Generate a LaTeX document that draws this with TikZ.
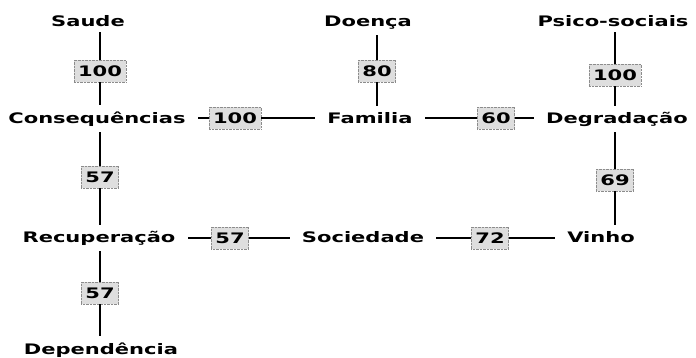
\documentclass[tikz,border=0pt]{standalone}
\usepackage{fontspec}
\setmainfont{DejaVu Sans}[FakeStretch=1.45]
\usepackage{tikz}
\newcommand{\wordfont}{\fontsize{14.5}{16}\selectfont\bfseries}
\tikzset{
	word/.style={font=\wordfont, anchor=base, inner xsep=12pt, inner ysep=6pt},
	val/.style={font=\wordfont, fill=black!13, draw=black!45, densely dotted, inner xsep=4pt, inner ysep=5.5pt},
	link/.style={line width=1.8pt}
}

\begin{document}
\begin{tikzpicture}[x=1pt,y=-1pt]
			%%%%% START %%%%%
			\useasboundingbox (0,0) rectangle (696,357);
			
			\node[word] (saude) at (88, 26) {Saude};
			\node[word] (doenca) at (368, 26) {Doença};
			\node[word] (psico) at (613, 26) {Psico-sociais};
			
			\node[word] (conseq) at (97, 123) {Consequências};
			\node[word] (familia) at (370, 123) {Familia};
			\node[word] (degrad) at (617, 123) {Degradação};
			
			\node[word] (recup) at (99, 242) {Recuperação};
			\node[word] (socied) at (363, 242) {Sociedade};
			\node[word] (vinho) at (601, 242) {Vinho};
			
			\node[word] (depend) at (101, 354) {Dependência};
			
			\node[val] (v1) at (100, 71) {100};
			\node[val] (v2) at (377, 71) {80};
			\node[val] (v3) at (615, 75) {100};
			\node[val] (h1) at (235, 118) {100};
			\node[val] (h2) at (496, 118) {60};
			\node[val] (v4) at (100, 177) {57};
			\node[val] (v5) at (615, 180) {69};
			\node[val] (h3) at (230, 238) {57};
			\node[val] (h4) at (490, 238) {72};
			\node[val] (v6) at (100, 293) {57};
			
			\draw[link] (v1) -- (v1 |- saude.south);
			\draw[link] (v1) -- (v1 |- conseq.north);
			\draw[link] (v2) -- (v2 |- doenca.south);
			\draw[link] (v2) -- (v2 |- familia.north);
			\draw[link] (v3) -- (v3 |- psico.south);
			\draw[link] (v3) -- (v3 |- degrad.north);
			
			\draw[link] (h1) -- (h1 -| conseq.east);
			\draw[link] (h1) -- (h1 -| familia.west);
			\draw[link] (h2) -- (h2 -| familia.east);
			\draw[link] (h2) -- (h2 -| degrad.west);
			
			\draw[link] (v4) -- (v4 |- conseq.south);
			\draw[link] (v4) -- (v4 |- recup.north);
			\draw[link] (v5) -- (v5 |- degrad.south);
			\draw[link] (v5) -- (v5 |- vinho.north);
			
			\draw[link] (h3) -- (h3 -| recup.east);
			\draw[link] (h3) -- (h3 -| socied.west);
			\draw[link] (h4) -- (h4 -| socied.east);
			\draw[link] (h4) -- (h4 -| vinho.west);
			
			\draw[link] (v6) -- (v6 |- recup.south);
			\draw[link] (v6) -- (v6 |- depend.north);
			%%%%% END %%%%%
\end{tikzpicture}
\end{document}
